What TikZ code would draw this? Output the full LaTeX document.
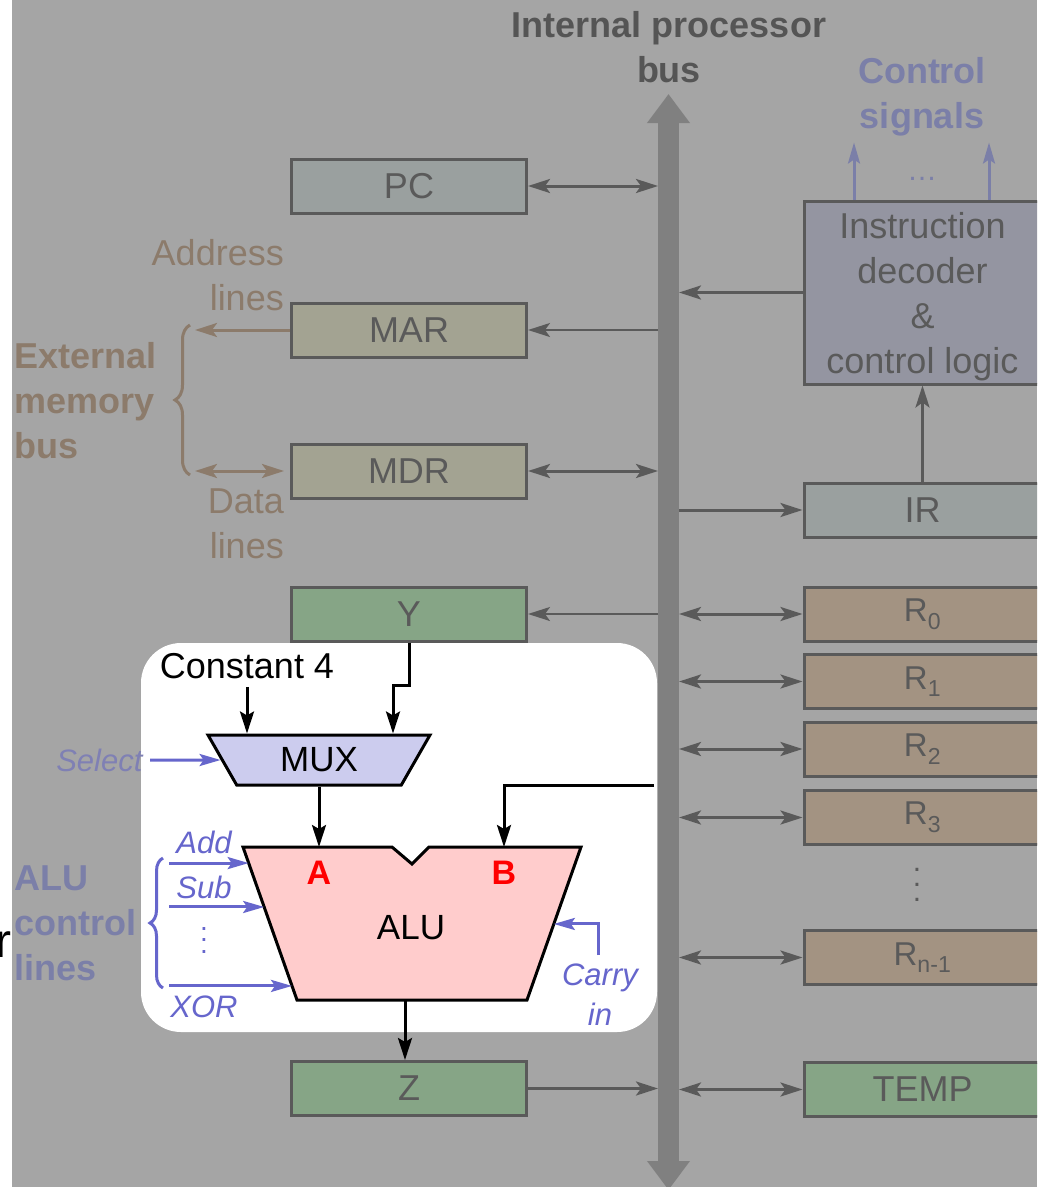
\documentclass[tikz,border=0pt]{standalone}
\usepackage{fontspec}
\setmainfont{Liberation Sans}
\usetikzlibrary{arrows.meta, positioning, calc, shapes.geometric, decorations.pathreplacing}
\definecolor{bggray}{HTML}{A5A5A5}
\definecolor{busgray}{HTML}{808080}
\definecolor{edgegray}{HTML}{5A5A5A}
\definecolor{titlegray}{HTML}{555555}
\definecolor{pcfill}{HTML}{9AA09F}
\definecolor{memfill}{HTML}{A3A392}
\definecolor{greenfill}{HTML}{86A586}
\definecolor{regfill}{HTML}{A39382}
\definecolor{decfill}{HTML}{9495A1}
\definecolor{extbrown}{HTML}{8C7B6B}
\definecolor{sigblue}{HTML}{7B7FA8}
\definecolor{ctrlblue}{HTML}{6666CC}
\definecolor{selblue}{HTML}{7F80B4}
\definecolor{muxfill}{HTML}{CCCCEE}
\definecolor{alufill}{HTML}{FFCCCC}

\begin{document}
\begin{tikzpicture}[x=1pt, y=-1pt,
    gtip/.tip={Stealth[length=22pt, width=14pt, inset=5pt]},
    ktip/.tip={Stealth[length=22pt, width=14pt, inset=4pt]},
    ctip/.tip={Stealth[length=21pt, width=12pt, inset=4pt]},
    bustip/.tip={Triangle[length=29pt, width=41pt]},
    box/.style={draw=edgegray, line width=3pt, minimum height=54pt, inner sep=0pt, text=edgegray, font=\fontsize{36}{45}\selectfont},
    lbox/.style={box, minimum width=235pt},
    rbox/.style={box, minimum width=237pt},
    link/.style={draw=edgegray, line width=3pt},
    memlink/.style={draw=extbrown, line width=3pt},
    sig/.style={draw=sigblue, line width=3pt, -ctip},
    blk/.style={draw=black, line width=3pt, -ktip},
    ctl/.style={draw=ctrlblue, line width=3pt, -ctip},
    ctltxt/.style={text=ctrlblue, font=\itshape\fontsize{31}{40}\selectfont},
    headtxt/.style={font=\bfseries\fontsize{36}{45}\selectfont},
    plaintxt/.style={font=\fontsize{36}{45}\selectfont},
    muxbox/.style={trapezium, trapezium angle=61, shape border rotate=180, trapezium stretches=true,
        minimum width=222pt, minimum height=50pt, inner sep=0pt, draw=black, line width=3pt, fill=muxfill,
        font=\fontsize{35}{35}\selectfont},
    port/.style={text=red, font=\bfseries\fontsize{34}{34}\selectfont}]
    \useasboundingbox (0,0) rectangle (1037,1187);
    \clip (0,0) rectangle (1037,1187);
    % background and ALU panel
    \fill[white] (0,0) rectangle (1037,1187);
    \fill[bggray] (12,0) rectangle (1037,1187);
    \fill[white, rounded corners=40pt] (141,643) rectangle (657,1032);
    % internal bus
    \coordinate (busTop) at (668.5,94);
    \coordinate (busBot) at (668.5,1190);
    \coordinate (busL) at (658,0);
    \coordinate (busR) at (679,0);
    \draw[busgray, line width=21pt, bustip-bustip] (busTop) -- (busBot);
    \node[headtxt, text=titlegray, align=center, anchor=base] (bustitle) at (669,82) {Internal processor\\bus};
    % left column
    \node[lbox, fill=pcfill] (PC) at (409,186) {PC};
    \node[lbox, fill=memfill] (MAR) at (409,330) {MAR};
    \node[lbox, fill=memfill] (MDR) at (409,471) {MDR};
    \node[lbox, fill=greenfill] (Y) at (409,614) {Y};
    \node[lbox, fill=greenfill] (Z) at (409,1088.5) {Z};
    % right column
    \node[rbox, fill=decfill, minimum height=183pt, align=center, text depth=0pt] (decoder) at (922.5,292.5)
        {Instruction\\decoder\\\&\\control logic};
    \node[rbox, fill=pcfill] (IR) at (922.5,510) {IR};
    \foreach \n/\s/\y in {R0/0/614, R1/1/681.5, R2/2/749, R3/3/817.5, Rn/n-1/957.5}
        \node[rbox, fill=regfill, font=\fontsize{33}{40}\selectfont] (\n) at (922.5,\y) {R\textsubscript{\s}};
    \node[rbox, fill=greenfill] (TEMP) at (922.5,1089.5) {TEMP};
    \node[text=edgegray, font=\fontsize{30}{15}\selectfont, align=center] (rdots) at (917,885) {.\\.\\.};
    % bus connections
    \draw[link, gtip-gtip] (PC.east) -- (PC.east -| busL);
    \draw[link, line width=2pt, -gtip] (MAR.east -| busL) -- (MAR.east);
    \draw[link, gtip-gtip] (MDR.east) -- (MDR.east -| busL);
    \draw[link, line width=2pt, -gtip] (Y.east -| busL) -- (Y.east);
    \draw[link, -gtip] (Z.east) -- (Z.east -| busL);
    \draw[link, -gtip] (decoder.west) -- (decoder.west -| busR);
    \draw[link, -gtip] (IR.west -| busR) -- (IR.west);
    \draw[link, -gtip] (IR.north) -- (decoder.south);
    \foreach \n in {R0,R1,R2,R3,Rn,TEMP}
        \draw[link, gtip-gtip] (\n.west -| busR) -- (\n.west);
    % control signals
    \node[headtxt, text=sigblue, align=center, anchor=base] (ctrlsig) at (922,128) {Control\\signals};
    \draw[sig] ([xshift=-68.5pt]decoder.north) -- ++(0,-57);
    \draw[sig] ([xshift=66.5pt]decoder.north) -- ++(0,-57);
    \node[text=sigblue, font=\fontsize{30}{30}\selectfont, anchor=base] (sigdots) at (922,180) {…};
    % external memory bus
    \node[headtxt, text=extbrown, align=left, anchor=base west, inner sep=0pt] (extbus) at (14,458) {External\\memory\\bus};
    \node[plaintxt, text=extbrown, align=right, anchor=base east, inner sep=0pt] (addrtxt) at (284,310) {Address\\lines};
    \node[plaintxt, text=extbrown, align=right, anchor=base east, inner sep=0pt] (datatxt) at (284,558) {Data\\lines};
    \draw[extbrown, line width=3pt, decorate, decoration={brace, amplitude=15pt}] (190,475) -- (190,325);
    \coordinate (memL) at (195,0);
    \draw[memlink, -gtip] (MAR.west) -- (MAR.west -| memL);
    \draw[memlink, gtip-gtip] (MDR.west -| memL) -- ([xshift=-6pt]MDR.west);
    % MUX
    \node[plaintxt, inner sep=0pt] (const4) at (247,666) {Constant 4};
    \node[muxbox] (mux) at (319,760) {MUX};
    \draw[blk] ([yshift=-8pt]const4.south) -- (const4.south |- mux.90);
    \draw[blk] (Y.south) -- ++(0,43) -| ($(Y.south |- mux.90)+(-16,0)$);
    \node[ctltxt, text=selblue, anchor=east] (select) at (146,760) {Select};
    \draw[ctl] ([xshift=4pt]select.east) -- (mux.180);
    % ALU
    \coordinate (aluTL) at (243,847);
    \coordinate (aluTR) at (581,847);
    \coordinate (aluBR) at (527,1000);
    \coordinate (aluBL) at (297,1000);
    \draw[black, line width=3pt, fill=alufill] (aluTL) -- (392,847) -- (412,864) -- (429,847) -- (aluTR)
        -- (aluBR) -- (aluBL) -- cycle;
    \node[plaintxt, font=\fontsize{35}{35}\selectfont] (alutxt) at (411,928) {ALU};
    \node[port] (portA) at (319,873) {A};
    \node[port] (portB) at (504,873) {B};
    \coordinate (aluA) at (319,847);
    \coordinate (aluB) at (504,847);
    \coordinate (aluOut) at (405,1000);
    \coordinate (Bin) at (654,785);
    \draw[blk] (mux.270) -- (aluA);
    \draw[blk] (Bin) -| (aluB);
    \draw[blk] (aluOut) -- (aluOut |- Z.north);
    % ALU control lines
    \draw[ctrlblue, line width=3pt, decorate, decoration={brace, amplitude=13pt}] (163,988) -- (163,858);
    \coordinate (clx) at (169,0);
    \foreach \f/\n in {0.105/addin, 0.392/subin, 0.908/xorin} {
        \coordinate (\n) at ($(aluTL)!\f!(aluBL)$);
        \draw[ctl] (\n -| clx) -- (\n);
    }
    \node[ctltxt, anchor=base] (addtxt) at (204,853) {Add};
    \node[ctltxt, anchor=base] (subtxt) at (204,898) {Sub};
    \node[ctltxt, font=\fontsize{28}{11.5}\selectfont, align=center] (cdots) at (204,940) {.\\.\\.};
    \node[ctltxt, anchor=base] (xortxt) at (204,1017) {XOR};
    \node[ctltxt, align=center, anchor=base] (carrytxt) at (600,1025) {Carry\\in};
    \coordinate (cinS) at (598,955);
    \coordinate (cinE) at ($(aluTR)!0.503!(aluBR)$);
    \draw[ctl] (cinS) |- (cinE);
    \node[headtxt, text=sigblue, align=left, anchor=base west, inner sep=0pt] (aluctl) at (14,980) {ALU\\control\\lines};
    \node[font=\fontsize{48}{48}\selectfont, anchor=base west, inner sep=0pt] (strayr) at (-5,957) {r};
\end{tikzpicture}
\end{document}
